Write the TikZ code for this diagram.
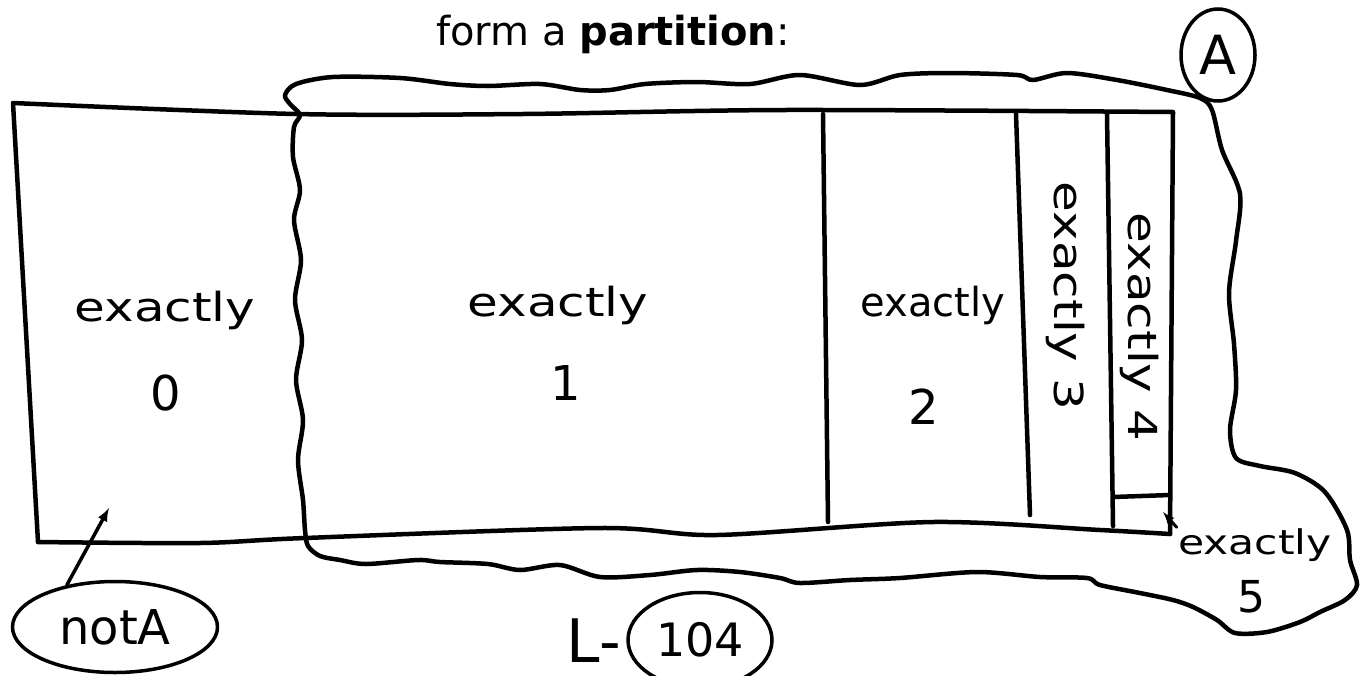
\documentclass[tikz,border=0pt]{standalone}
\usepackage{fontspec}
\setmainfont{DejaVu Sans}
\usetikzlibrary{shapes,arrows}

\begin{document}
\begin{tikzpicture}[x=1pt, y=-1pt,
			>=latex,   % Pfeilspitzen
			strich/.style={line width=4.5pt, line cap=round, line join=round},
			hand/.style={font=\fontsize{40}{44}\selectfont, xscale=1.25, inner sep=1pt},
			ziffer/.style={font=\fontsize{48}{52}\selectfont, inner sep=1pt},
			ring/.style={draw, ellipse, line width=3.5pt, inner sep=0pt}]
			% Bildbereich festlegen
			\useasboundingbox (0,0) rectangle (1367,675);
			% Ueberschrift
			\node[anchor=base, font=\fontsize{40}{44}\selectfont] (titel) at (613,45) {form a \textbf{partition}:};
			% Kasten zeichnen
			\draw[strich] (38,542) -- (13,103) plot[smooth, tension=0.5] coordinates {(13,103) (296,114) (523,114) (785,110) (1173,112)} -- (1170,534);
			\draw[strich] plot[smooth, tension=0.5] coordinates {(38,542) (200,543) (305,538) (600,528) (717,535) (933,522) (1100,530) (1170,534)};
			% Trennlinien
			\foreach \xo/\xu/\yu in {823/828/522, 1016/1030/515, 1107/1113/526}
				\draw[strich] (\xo,114) -- (\xu,\yu);
			\draw[strich] (1113,497) -- (1170,495);
			% Menge A (Umriss)
			\draw[strich] plot[smooth cycle, tension=0.5] coordinates {
				(300,115) (290,104) (285,95) (296,84) (333,77) (400,78) (450,84) (488,86)
				(540,84) (580,90) (610,90) (645,84) (697,82) (750,84) (800,75) (860,85)
				(900,75) (950,73) (1017,75) (1033,80) (1067,73) (1117,80) (1167,90) (1200,98)
				(1212,110) (1222,150) (1240,194) (1236,241) (1229,293) (1234,344) (1236,390)
				(1230,430) (1236,458) (1260,466) (1295,473) (1325,492) (1347,530) (1350,560)
				(1357,585) (1345,600) (1320,612) (1300,622) (1267,632) (1235,633) (1217,620)
				(1193,607) (1173,600) (1140,593) (1100,585) (1087,578) (1040,577) (977,572)
				(900,578) (850,580) (800,583) (780,578) (740,572) (697,570) (650,575) (600,577)
				(560,565) (520,570) (488,564) (440,562) (418,560) (366,564) (340,560) (320,556)
				(308,546) (305,530) (303,500) (298,460) (303,420) (296,380) (302,340) (295,300)
				(301,260) (294,220) (300,190) (293,157) (294,127)};
			% Beschriftung der Felder
			\node[hand] (exnull) at (165,310) {exactly};
			\node[ziffer] (null) at (166,393) {0};
			\node[hand] (exeins) at (558,305) {exactly};
			\node[ziffer] (eins) at (566,383) {1};
			\node[hand, xscale=0.8] (exzwei) at (933,305) {exactly};
			\node[ziffer] (zwei) at (924,407) {2};
			\node[rotate=-90, hand] (exdrei) at (1066,296) {exactly 3};
			\node[rotate=-90, hand] (exvier) at (1140,327) {exactly 4};
			\node[hand, font=\fontsize{34}{38}\selectfont] (exfuenf) at (1255,545) {exactly};
			\node[ziffer, font=\fontsize{44}{48}\selectfont] (fuenf) at (1251,597) {5};
			\coordinate (spitzefuenf) at (1163,512);
			\draw[->, strich, line width=3pt] (exfuenf.north west) -- (spitzefuenf);
			% Mengen benennen
			\node[ring, minimum width=74pt, minimum height=92pt, font=\fontsize{54}{58}\selectfont] (mengeA) at (1218,55) {A};
			\node[ring, minimum width=205pt, minimum height=91pt, font=\fontsize{48}{52}\selectfont] (nichtA) at (115,627) {notA};
			\coordinate (spitzenull) at (109,508);
			\draw[->, strich, line width=3.5pt] (nichtA.139) -- (spitzenull);
			% Seitenangabe
			\node[font=\fontsize{60}{64}\selectfont, inner sep=0pt] (seite) at (594,641) {L-};
			\node[ring, minimum width=144pt, minimum height=95pt, font=\fontsize{46}{50}\selectfont] (nummer) at (700,640) {104};
		\end{tikzpicture}
\end{document}
